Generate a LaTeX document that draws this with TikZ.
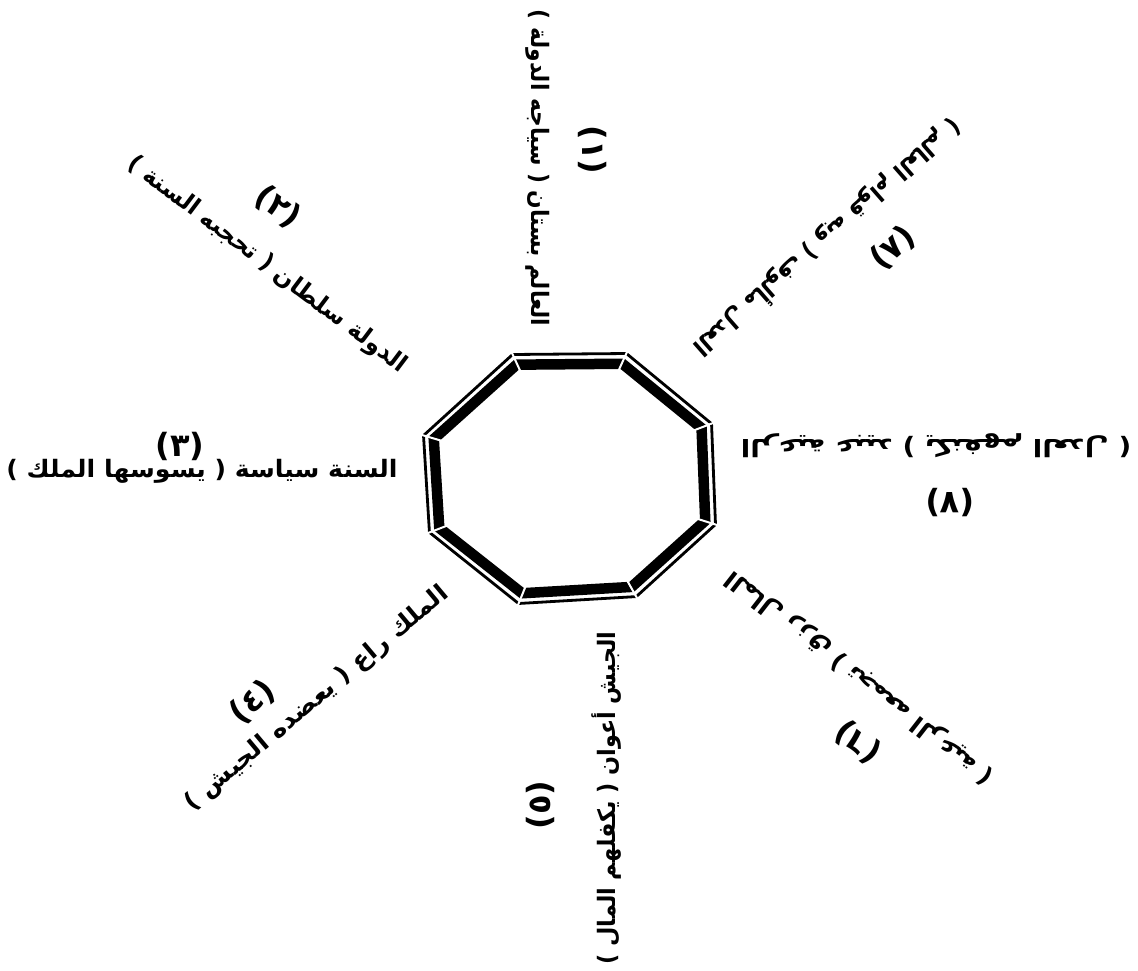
\documentclass[tikz,border=0pt]{standalone}
\usepackage{fontspec}
\newfontfamily\arabicfont[Script=Arabic]{DejaVu Sans}
\TeXXeTstate=1
\usetikzlibrary{calc}
\begin{document}
\begin{tikzpicture}[x=1pt,y=-1pt,
  lab/.style={inner sep=0pt, font={\arabicfont\bfseries\fontsize{24}{28}\selectfont}},
  num/.style={inner sep=0pt, font={\arabicfont\bfseries\fontsize{32}{36}\selectfont}},
  octpath/.style={line join=miter}]
\useasboundingbox[fill=white] (0,0) rectangle (1138,970);
% ---------- octagon ----------
\coordinate (c) at (569.5,478.5);
\begin{scope}[shift={(c)}, xscale=0.9898, yscale=0.9881]
  \draw[octpath, line width=2.8pt] (-57.5,-125.5) -- (57.5,-126.5) -- (143.5,-55.5) -- (147.5,46.5) -- (67.5,119.5) -- (-51.5,126.5) -- (-141.5,54.5) -- (-147.5,-43.5) -- cycle;
\end{scope}
\begin{scope}[shift={(c)}, xscale=0.9203, yscale=0.9071]
  \draw[octpath, line width=10.5pt] (-57.5,-125.5) -- (57.5,-126.5) -- (143.5,-55.5) -- (147.5,46.5) -- (67.5,119.5) -- (-51.5,126.5) -- (-141.5,54.5) -- (-147.5,-43.5) -- cycle;
\end{scope}
\foreach \vx/\vy [count=\i] in {-57.5/-125.5, 57.5/-126.5, 143.5/-55.5, 147.5/46.5, 67.5/119.5, -51.5/126.5, -141.5/54.5, -147.5/-43.5} {
  \coordinate (v\i) at ([shift={(\vx,\vy)}]c);
  \draw[white, line width=2pt] ($(c)!1.04!(v\i)$) -- ($(c)!0.84!(v\i)$);
}
% ---------- labels ----------
\node[lab, rotate=-90] (t1) at (538,168) {\scalebox{0.91}[1]{\beginR العالم بستان ( سياجه الدولة )\endR}};
\node[num, rotate=-90] (n1) at (593,150) {\beginR(١)\endR};
\node[lab, rotate=-37] (t2) at (267,265) {\scalebox{0.97}[1]{\beginR الدولة سلطان ( تحجبه السنة )\endR}};
\node[num, rotate=-37] (n2) at (278,207) {\beginR(٢)\endR};
\node[lab] (t3) at (202,471) {\scalebox{1.05}[1]{\beginR السنة سياسة ( يسوسها الملك )\endR}};
\node[num] (n3) at (180,446) {\beginR(٣)\endR};
\node[lab, rotate=40] (t4) at (317,699) {\scalebox{1.05}[1]{\beginR الملك راع ( يعضده الجيش )\endR}};
\node[num, rotate=40] (n4) at (253,702) {\beginR(٤)\endR};
\node[lab, rotate=90] (t5) at (607,798) {\scalebox{0.93}[1]{\beginR الجيش أعوان ( يكفلهم المال )\endR}};
\node[num, rotate=90] (n5) at (540,805) {\beginR(٥)\endR};
\node[lab, rotate=142] (t6) at (860,677) {\scalebox{1.04}[1]{\beginR المال رزق ( تجمعه الرعية )\endR}};
\node[num, rotate=142] (n6) at (858,742) {\beginR(٦)\endR};
\node[lab, rotate=180] (t7) at (936,446) {\scalebox{1.16}[1]{\beginR الرعية عبيد ( يكنفهم العدل )\endR}};
\node[num, rotate=180] (n7) at (950,503) {\beginR(٧)\endR};
\node[lab, rotate=-138.8] (t8) at (828,238) {\scalebox{0.92}[1]{\beginR العدل مألوف ( وبه قوام العالم )\endR}};
\node[num, rotate=-138.8] (n8) at (893,248) {\beginR(٨)\endR};
\end{tikzpicture}
\end{document}
